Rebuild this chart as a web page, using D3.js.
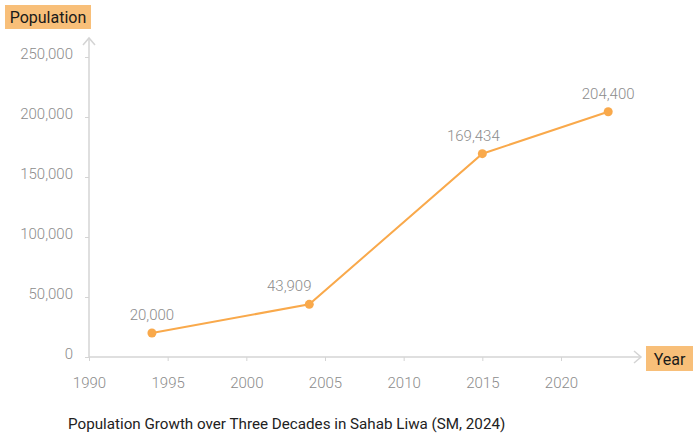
<!DOCTYPE html>
<html>
<head>
<meta charset="utf-8">
<script src="https://cdn.jsdelivr.net/npm/d3@7"></script>
<style>
  body { margin: 0; background: #fff; }
  svg text { font-family: Roboto, "Noto Sans", sans-serif; }
</style>
</head>
<body>
<svg id="chart" width="697" height="438"></svg>
<script>
// chart data
const years = [1994, 2004, 2015, 2023];
const population = [20000, 43909, 169434, 204400];
const yTicks = [0, 50000, 100000, 150000, 200000, 250000];
const xTicks = [1990, 1995, 2000, 2005, 2010, 2015, 2020];
const title = "Population Growth over Three Decades in Sahab Liwa (SM, 2024)";

const svg = d3.select("#chart");
const axisColor = "#d4d4d4",
    lineColor = "#f9a94b",
    boxColor = "#f8bf79",
    labelColor = "#8c8c8c";
// nudge value labels off the rising line
const labelShift = [0, -20, -9, 0];

let x = d3.scaleLinear().domain([1990, 2020]).range([89, 561]);
let y = d3.scaleLinear().domain([0, 250000]).range([357, 57]);

let fmt = d3.format(",");

// y axis
let yAxis = d3.axisLeft(y).tickValues(yTicks).tickFormat(fmt).tickSize(4).tickPadding(12);
let gy = svg.append("g").attr("transform", "translate(89,0)").call(yAxis);
gy.select(".domain").remove();
gy.selectAll("line").attr("stroke", axisColor);
gy.selectAll("text").attr("fill", labelColor).style("font-size", "15px").style("font-weight", 300)
    .attr("dy", "0.1em");

// x axis
let xAxis = d3.axisBottom(x).tickValues(xTicks).tickFormat(d3.format("d")).tickSize(4).tickPadding(16);
let gx = svg.append("g").attr("transform", "translate(0,357)").call(xAxis);
gx.select(".domain").remove();
gx.selectAll("line").attr("stroke", axisColor);
gx.selectAll("text").attr("fill", labelColor).style("font-size", "15px").style("font-weight", 300);

// axis lines with arrows
svg.append("line").attr("x1", 89).attr("y1", 357).attr("x2", 89).attr("y2", 38)
    .attr("stroke", axisColor).attr("stroke-width", 1.5);
svg.append("path").attr("d", "M83,45 L89,38 L95,45").attr("fill", "none")
    .attr("stroke", axisColor).attr("stroke-width", 1.5);
svg.append("line").attr("x1", 89).attr("y1", 357).attr("x2", 641).attr("y2", 357)
    .attr("stroke", axisColor).attr("stroke-width", 1.5);
svg.append("path").attr("d", "M634,351 L641,357 L634,363").attr("fill", "none")
    .attr("stroke", axisColor).attr("stroke-width", 1.5);

// axis title boxes
svg.append("rect").attr("x", 5).attr("y", 5).attr("width", 86).attr("height", 24).attr("fill", boxColor);
svg.append("text").attr("x", 48).attr("y", 23).attr("text-anchor", "middle")
    .style("font-size", "16px").attr("fill", "#1a1a1a").text("Population");
svg.append("rect").attr("x", 646).attr("y", 346).attr("width", 47).attr("height", 25).attr("fill", boxColor);
svg.append("text").attr("x", 669.5).attr("y", 364.5).attr("text-anchor", "middle")
    .style("font-size", "16px").attr("fill", "#1a1a1a").text("Year");

// line + points
let data = years.map((d, i) => ({ year: d, value: population[i], shift: labelShift[i] }));
let line = d3.line().x(d => x(d.year)).y(d => y(d.value));
svg.append("path").datum(data).attr("d", line).attr("fill", "none")
    .attr("stroke", lineColor).attr("stroke-width", 2);
svg.selectAll("circle.pt").data(data).enter().append("circle")
    .attr("cx", d => x(d.year)).attr("cy", d => y(d.value)).attr("r", 4.5)
    .attr("fill", lineColor);
svg.selectAll("text.val").data(data).enter().append("text")
    .attr("x", d => x(d.year) + d.shift).attr("y", d => y(d.value) - 13)
    .attr("text-anchor", "middle").attr("fill", labelColor)
    .style("font-size", "15px").style("font-weight", 300)
    .text(d => fmt(d.value));

// caption
svg.append("text").attr("x", 68).attr("y", 429).attr("fill", "#222")
    .style("font-size", "15.2px").text(title);
</script>
</body>
</html>
